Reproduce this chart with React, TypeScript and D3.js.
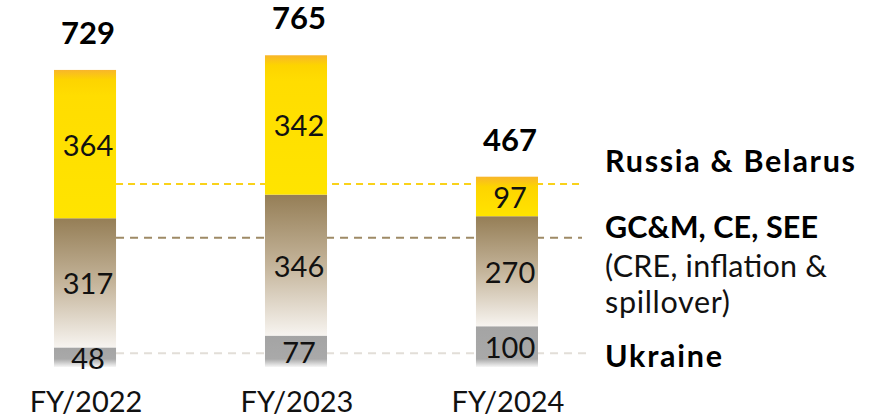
import React from "react";
import * as d3 from "d3";

const categories = ["FY/2022", "FY/2023", "FY/2024"];
const ukraine = [48, 77, 100];
const gcmCeSee = [317, 346, 270];
const russiaBelarus = [364, 342, 97];
const totals = [729, 765, 467];
const seriesKeys = ["ukraine", "gcm", "russia"];
const legendLabels = ["Russia & Belarus", "GC&M, CE, SEE", "(CRE, inflation &", "spillover)", "Ukraine"];
const leaderValues = [449, 317, 34];

const W = 882;
const H = 419;
const FONT = "Lato, 'Open Sans', sans-serif";

export default function App() {
  const x = d3.scaleBand<string>().domain(categories).range([54, 538]).paddingInner(0.706).paddingOuter(0);
  const y = d3.scaleLinear().domain([0, 765]).range([367, 367 - 765 * 0.4075]);

  const rows = categories.map((c, i) => ({
    cat: c,
    ukraine: ukraine[i],
    gcm: gcmCeSee[i],
    russia: russiaBelarus[i],
  }));
  const stacked = d3.stack<any>().keys(seriesKeys)(rows);

  const bw = x.bandwidth();
  const leaderColors = ["#F9D21A", "#9E8A66", "#E2DED8"];
  const leaderDash = ["7,5", "8,6", "8,6"];
  const leaderEnd = [582, 582, 587];

  const defs: React.ReactNode[] = [];
  const rects: React.ReactNode[] = [];
  const labels: React.ReactNode[] = [];

  stacked.forEach((series, si) => {
    series.forEach((d, i) => {
      const y0 = y(d[1]);
      const y1 = y(d[0]);
      const h = y1 - y0;
      const id = `g-${si}-${i}`;
      let stops: [number, string][] = [];
      if (si === 2) {
        stops = [
          [0, "#F8B62B"],
          [Math.min(0.5, 10 / h), "#FDD400"],
          [Math.min(0.8, 26 / h), "#FFDD00"],
          [1, "#FFE400"],
        ];
      } else if (si === 1) {
        stops = [
          [0, "#957E56"],
          [0.5, "#C4B49A"],
          [1, "#F7F4F0"],
        ];
      } else {
        stops = [
          [0, "#A4A4A4"],
          [Math.max(0.1, (h - 8) / h), "#A9A9A9"],
          [1, "#F6F6F6"],
        ];
      }
      defs.push(
        <linearGradient key={id} id={id} x1="0" y1="0" x2="0" y2="1">
          {stops.map(([o, c], k) => (
            <stop key={k} offset={o} stopColor={c} />
          ))}
        </linearGradient>
      );
      const bx = x(categories[i])!;
      rects.push(<rect key={id} x={bx} y={y0} width={bw} height={h} fill={`url(#${id})`} />);
      const val = d[1] - d[0];
      labels.push(
        <text
          key={"t" + id}
          x={bx + bw / 2 + 3}
          y={(y0 + y1) / 2 + 11.5}
          textAnchor="middle"
          fontSize={29}
          fontFamily={FONT}
          fill="#111"
        >
          {val}
        </text>
      );
    });
  });

  const legendRows = [
    { t: legendLabels[0], y: 172, bold: true, len: 250 },
    { t: legendLabels[1], y: 238, bold: true, len: 213 },
    { t: legendLabels[2], y: 277, bold: false, len: 222 },
    { t: legendLabels[3], y: 313, bold: false, len: 125 },
    { t: legendLabels[4], y: 367, bold: true, len: 117 },
  ];

  return (
    <svg width={W} height={H} style={{ position: "absolute", left: 0, top: 0, background: "#fff" }}>
      <defs>{defs}</defs>
      {leaderValues.map((v, k) => (
        <line
          key={k}
          x1={x(categories[0])! + bw}
          x2={leaderEnd[k]}
          y1={y(v)}
          y2={y(v)}
          stroke={leaderColors[k]}
          strokeWidth={2}
          strokeDasharray={leaderDash[k]}
        />
      ))}
      {rects}
      {labels}
      {totals.map((t, i) => (
        <text
          key={"tot" + i}
          x={x(categories[i])! + bw / 2 + 3}
          y={y(t) - 26}
          textAnchor="middle"
          fontSize={31}
          fontWeight="bold"
          fontFamily={FONT}
          fill="#000"
        >
          {t}
        </text>
      ))}
      {categories.map((c, i) => (
        <text
          key={"c" + i}
          x={x(c)! + bw / 2 + 1}
          y={412}
          textAnchor="middle"
          fontSize={29}
          fontFamily={FONT}
          fill="#111"
        >
          {c}
        </text>
      ))}
      <g fontFamily={FONT} fontSize={30.5}>
        {legendRows.map((r, k) => (
          <text
            key={k}
            x={605}
            y={r.y}
            fontWeight={r.bold ? "bold" : "normal"}
            fill={r.bold ? "#000" : "#111"}
            textLength={r.len}
            lengthAdjust="spacing"
          >
            {r.t}
          </text>
        ))}
      </g>
    </svg>
  );
}
